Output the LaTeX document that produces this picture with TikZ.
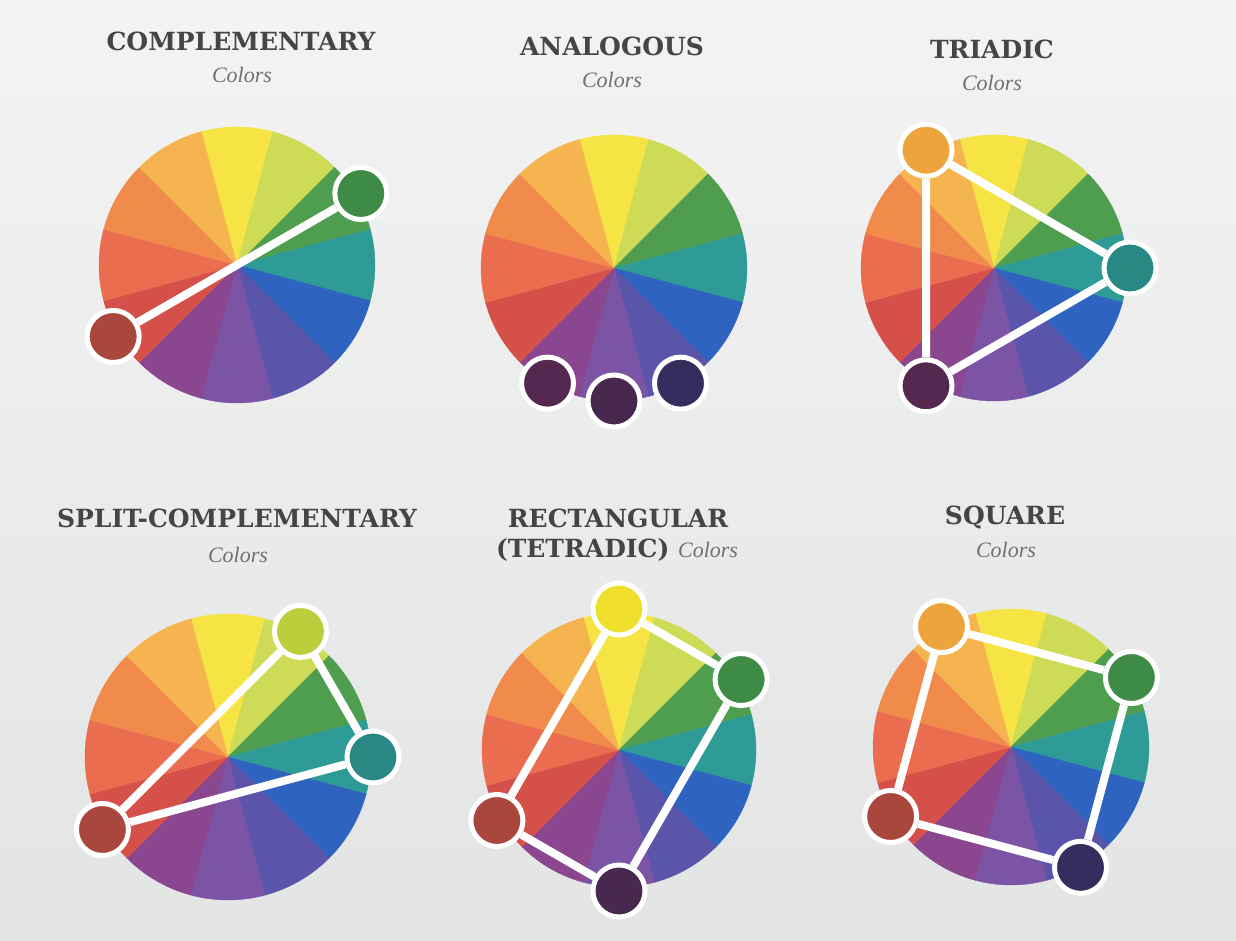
\documentclass[tikz,border=0pt]{standalone}
\usepackage{fontspec}
\newfontfamily\headfont{DejaVu Serif}
\newfontfamily\subfont{Liberation Serif}
\usepackage{tikz}
\usetikzlibrary{calc,positioning}
\definecolor{paperTop}{HTML}{F2F3F2}
\definecolor{paperBot}{HTML}{E3E5E4}
\definecolor{headgray}{HTML}{454545}
\definecolor{subgray}{HTML}{707070}
% wedges of the wheel
\definecolor{cY}{HTML}{F6E444}
\definecolor{cYG}{HTML}{CDDB56}
\definecolor{cG}{HTML}{4F9E4F}
\definecolor{cT}{HTML}{2F9B97}
\definecolor{cB}{HTML}{2E63C0}
\definecolor{cBV}{HTML}{5A55AB}
\definecolor{cV}{HTML}{7B54A6}
\definecolor{cRV}{HTML}{8B4690}
\definecolor{cR}{HTML}{D6504A}
\definecolor{cRO}{HTML}{EB6D50}
\definecolor{cO}{HTML}{F08B4C}
\definecolor{cYO}{HTML}{F5B450}
% picked swatches
\definecolor{sGreen}{HTML}{3D8B45}
\definecolor{sRed}{HTML}{A9473D}
\definecolor{sPlum}{HTML}{55294F}
\definecolor{sViolet}{HTML}{48284F}
\definecolor{sIndigo}{HTML}{372C5E}
\definecolor{sOrange}{HTML}{EDA43C}
\definecolor{sTeal}{HTML}{2A8884}
\definecolor{sLime}{HTML}{BDCE3C}
\definecolor{sYellow}{HTML}{F1DF2E}

\begin{document}
\begin{tikzpicture}[x=1pt, y=1pt,
  pics/wheel/.style={code={
    \foreach \ang/\col in {90/cY,60/cYG,30/cG,0/cT,-30/cB,-60/cBV,-90/cV,-120/cRV,-150/cR,180/cRO,150/cO,120/cYO}
      \filldraw[fill=\col, draw=\col, line width=0.4pt] (0,0) -- (\ang-15:#1) arc[start angle=\ang-15, end angle=\ang+15, radius=#1] -- cycle;
  }},
  swatch/.style={circle, draw=white, line width=5pt, minimum size=52pt, inner sep=0pt},
  link/.style={white, line width=8pt},
  heading/.style={font=\headfont\bfseries\fontsize{25}{25}\selectfont, text=headgray, anchor=base, inner sep=0pt},
  subheading/.style={font=\subfont\itshape\fontsize{22}{22}\selectfont, text=subgray, anchor=base, inner sep=0pt},
]
  \useasboundingbox (0,0) rectangle (1236,940);
  \shade[top color=paperTop, bottom color=paperBot] (0,0) rectangle (1236,940);
  %
  % complementary wheel at upper left
  \coordinate (comp) at (237,675);
  \pic at (comp) {wheel=138};
  \node[swatch, fill=sGreen] (comp-a) at ($(comp)+(30:143)$) {};
  \node[swatch, fill=sRed] (comp-b) at ($(comp)+(210:143)$) {};
  \draw[link] (comp-a) -- (comp-b);
  \node[heading] (comp-title) at (241,889) {COMPLEMENTARY};
  \node[subheading] (comp-sub) at (242,857) {Colors};
  %
  % analogous wheel, three swatches and no links
  \coordinate (anal) at (614,672);
  \pic at (anal) {wheel=133};
  \node[swatch, fill=sPlum] (anal-a) at ($(anal)+(-120:133)$) {};
  \node[swatch, fill=sViolet] (anal-b) at ($(anal)+(-90:133)$) {};
  \node[swatch, fill=sIndigo] (anal-c) at ($(anal)+(-60:133)$) {};
  \node[heading] (anal-title) at (612,884) {ANALOGOUS};
  \node[subheading] (anal-sub) at (612,852) {Colors};
  %
  % triadic wheel at upper right
  \coordinate (tri) at (994,672);
  \pic at (tri) {wheel=133};
  \node[swatch, fill=sOrange] (tri-a) at ($(tri)+(120:136)$) {};
  \node[swatch, fill=sTeal] (tri-b) at ($(tri)+(0:136)$) {};
  \node[swatch, fill=sPlum] (tri-c) at ($(tri)+(-120:136)$) {};
  \draw[link] (tri-a) -- (tri-b) (tri-b) -- (tri-c) (tri-c) -- (tri-a);
  \node[heading] (tri-title) at (992,881) {TRIADIC};
  \node[subheading] (tri-sub) at (992,849) {Colors};
  %
  % split-complementary wheel at lower left
  \coordinate (split) at (228,183);
  \pic at (split) {wheel=143};
  \node[swatch, fill=sLime] (split-a) at ($(split)+(60:145)$) {};
  \node[swatch, fill=sTeal] (split-b) at ($(split)+(0:145)$) {};
  \node[swatch, fill=sRed] (split-c) at ($(split)+(210:145)$) {};
  \draw[link] (split-c) -- (split-a) (split-a) -- (split-b) (split-b) -- (split-c);
  \node[heading] (split-title) at (237,412) {SPLIT-COMPLEMENTARY};
  \node[subheading] (split-sub) at (238,377) {Colors};
  %
  % rectangular wheel
  \coordinate (rect) at (619,190);
  \pic at (rect) {wheel=137};
  \node[swatch, fill=sYellow] (rect-a) at ($(rect)+(90:141)$) {};
  \node[swatch, fill=sGreen] (rect-b) at ($(rect)+(30:141)$) {};
  \node[swatch, fill=sViolet] (rect-c) at ($(rect)+(-90:141)$) {};
  \node[swatch, fill=sRed] (rect-d) at ($(rect)+(210:141)$) {};
  \draw[link] (rect-a) -- (rect-b) (rect-b) -- (rect-c) (rect-c) -- (rect-d) (rect-d) -- (rect-a);
  \node[heading] (rect-title) at (618,412) {RECTANGULAR};
  \node[anchor=base, inner sep=0pt] (rect-sub) at (617,382)
    {\headfont\bfseries\fontsize{25}{25}\selectfont\color{headgray}(TETRADIC) \subfont\mdseries\itshape\fontsize{22}{22}\selectfont\color{subgray}Colors};
  %
  % square wheel at lower right
  \coordinate (squ) at (1011,193);
  \pic at (squ) {wheel=138};
  \node[swatch, fill=sOrange] (squ-a) at ($(squ)+(120:139)$) {};
  \node[swatch, fill=sGreen] (squ-b) at ($(squ)+(30:139)$) {};
  \node[swatch, fill=sIndigo] (squ-c) at ($(squ)+(-60:139)$) {};
  \node[swatch, fill=sRed] (squ-d) at ($(squ)+(210:139)$) {};
  \draw[link] (squ-a) -- (squ-b) (squ-b) -- (squ-c) (squ-c) -- (squ-d) (squ-d) -- (squ-a);
  \node[heading] (squ-title) at (1005,415) {SQUARE};
  \node[subheading] (squ-sub) at (1006,382) {Colors};
\end{tikzpicture}
\end{document}
